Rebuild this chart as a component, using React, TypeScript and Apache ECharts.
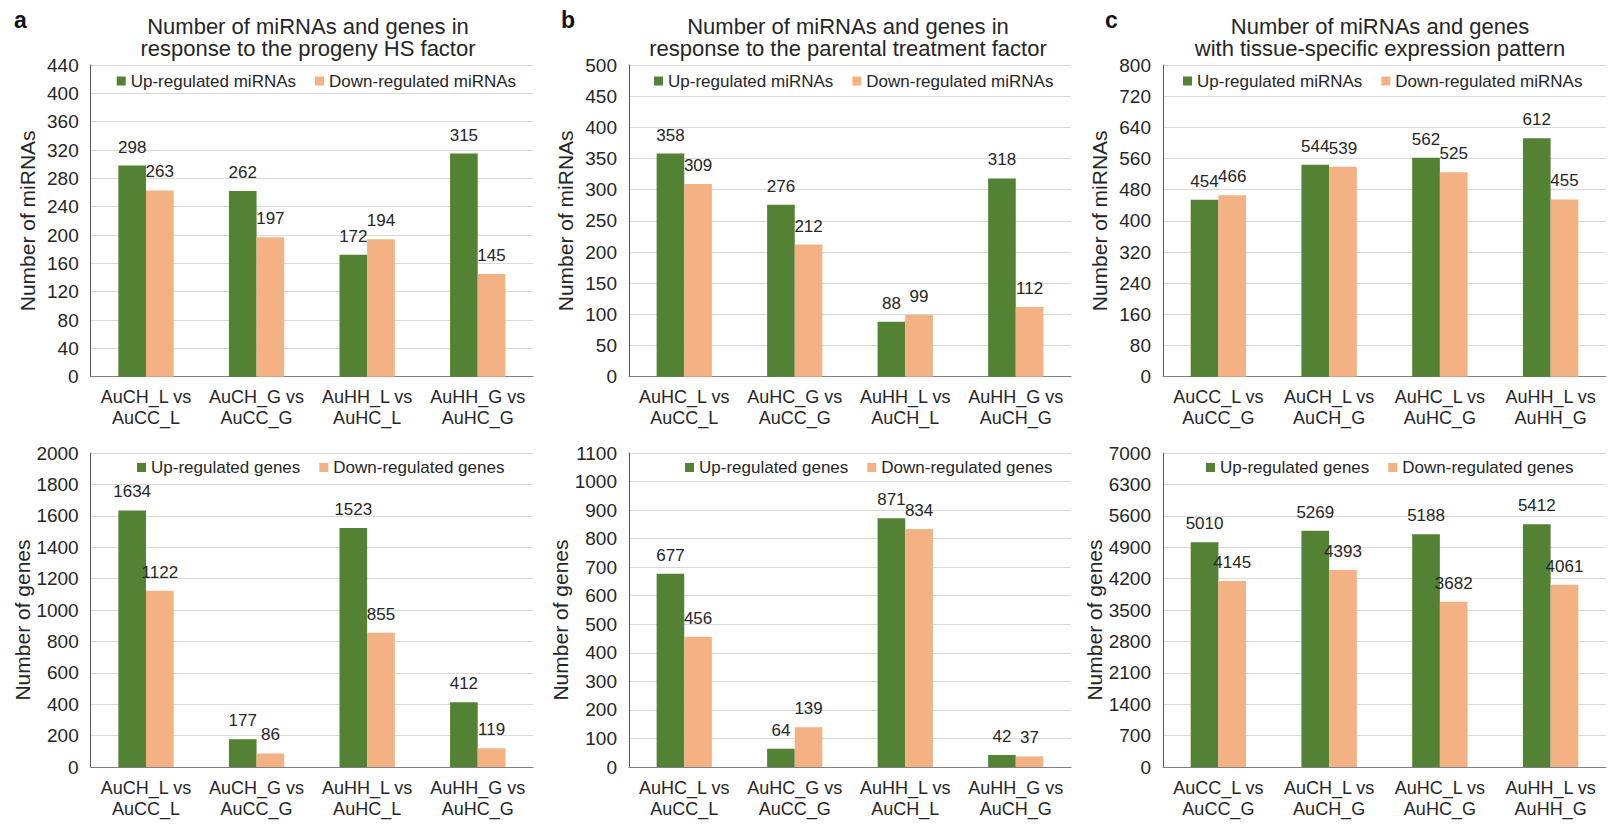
import React, { useEffect, useRef } from "react";
import * as echarts from "echarts";

// ---------- data ----------
const catsA = ["AuCH_L vs\nAuCC_L", "AuCH_G vs\nAuCC_G", "AuHH_L vs\nAuHC_L", "AuHH_G vs\nAuHC_G"];
const catsB = ["AuHC_L vs\nAuCC_L", "AuHC_G vs\nAuCC_G", "AuHH_L vs\nAuCH_L", "AuHH_G vs\nAuCH_G"];
const catsC = ["AuCC_L vs\nAuCC_G", "AuCH_L vs\nAuCH_G", "AuHC_L vs\nAuHC_G", "AuHH_L vs\nAuHH_G"];

const aMirUp = [298, 262, 172, 315];
const aMirDown = [263, 197, 194, 145];
const aGeneUp = [1634, 177, 1523, 412];
const aGeneDown = [1122, 86, 855, 119];

const bMirUp = [358, 276, 88, 318];
const bMirDown = [309, 212, 99, 112];
const bGeneUp = [677, 64, 871, 42];
const bGeneDown = [456, 139, 834, 37];

const cMirUp = [454, 544, 562, 612];
const cMirDown = [466, 539, 525, 455];
const cGeneUp = [5010, 5269, 5188, 5412];
const cGeneDown = [4145, 4393, 3682, 4061];

// y-axis scales: [max, interval]
const yScales = [
  [440, 40],
  [500, 50],
  [800, 80],
  [2000, 200],
  [1100, 100],
  [7000, 700],
];

const titles = [
  "Number of miRNAs and genes in\nresponse to the progeny HS factor",
  "Number of miRNAs and genes in\nresponse to the parental treatment factor",
  "Number of miRNAs and genes\nwith tissue-specific expression pattern",
];
const letters = ["a", "b", "c"];

const mirLegend = ["Up-regulated miRNAs", "Down-regulated miRNAs"];
const geneLegend = ["Up-regulated genes", "Down-regulated genes"];
const yNames = ["Number of miRNAs", "Number of genes"];

const GREEN = "#548235";
const ORANGE = "#F4B183";
const TEXT = "#262626";
const FONT = '"Liberation Sans", Arial, Helvetica, sans-serif';

export default function App() {
  const ref = useRef<HTMLDivElement>(null);

  useEffect(() => {
    if (!ref.current) return;
    const chart = echarts.init(ref.current, null, { renderer: "svg" });

    const cols = [
      { left: 90.7, width: 442.3, legendTop: 116.7, legendBot: 137, titleX: 308, letterX: 14, letterY: 20 },
      { left: 629, width: 442, legendTop: 654, legendBot: 685, titleX: 848, letterX: 561, letterY: 20 },
      { left: 1163, width: 443, legendTop: 1183, legendBot: 1206, titleX: 1380, letterX: 1105, letterY: 20 },
    ];
    const rows = [
      { top: 65, height: 311.7 },
      { top: 453, height: 314 },
    ];

    const panels = [
      { col: 0, row: 0, cats: catsA, up: aMirUp, down: aMirDown },
      { col: 1, row: 0, cats: catsB, up: bMirUp, down: bMirDown },
      { col: 2, row: 0, cats: catsC, up: cMirUp, down: cMirDown },
      { col: 0, row: 1, cats: catsA, up: aGeneUp, down: aGeneDown },
      { col: 1, row: 1, cats: catsB, up: bGeneUp, down: bGeneDown },
      { col: 2, row: 1, cats: catsC, up: cGeneUp, down: cGeneDown },
    ];

    const grid: any[] = [];
    const xAxis: any[] = [];
    const yAxis: any[] = [];
    const series: any[] = [];
    const legend: any[] = [];

    panels.forEach((p, i) => {
      const c = cols[p.col];
      const r = rows[p.row];
      const names = p.row === 0 ? mirLegend : geneLegend;
      grid.push({ left: c.left, top: r.top, width: c.width, height: r.height, containLabel: false });
      xAxis.push({
        type: "category",
        gridIndex: i,
        data: p.cats,
        axisLine: { show: true, lineStyle: { color: "#808080", width: 1 } },
        axisTick: { show: false },
        axisLabel: {
          interval: 0,
          margin: 10,
          fontSize: 18,
          lineHeight: 21,
          color: TEXT,
          fontFamily: FONT,
        },
      });
      yAxis.push({
        type: "value",
        gridIndex: i,
        min: 0,
        max: yScales[i][0],
        interval: yScales[i][1],
        name: yNames[p.row],
        nameLocation: "middle",
        nameGap: 53,
        nameTextStyle: {
          fontSize: 21,
          color: TEXT,
          fontFamily: FONT,
          padding: p.row === 1 ? [0, 20, 0, 0] : 0,
        },
        axisLine: { show: true, lineStyle: { color: "#595959", width: 1 } },
        axisTick: { show: false },
        splitLine: { show: true, lineStyle: { color: "#D9D9D9", width: 1 } },
        axisLabel: {
          margin: 12,
          fontSize: 19,
          color: TEXT,
          fontFamily: FONT,
          formatter: (v: number) => String(v),
        },
      });
      const lbl = {
        show: true,
        position: "top",
        distance: 10,
        fontSize: 17,
        color: TEXT,
        fontFamily: FONT,
      };
      series.push({
        type: "bar",
        name: names[0],
        xAxisIndex: i,
        yAxisIndex: i,
        data: p.up,
        barWidth: "25%",
        barGap: "0%",
        itemStyle: { color: GREEN },
        label: lbl,
      });
      series.push({
        type: "bar",
        name: names[1],
        xAxisIndex: i,
        yAxisIndex: i,
        data: p.down,
        barWidth: "25%",
        barGap: "0%",
        itemStyle: { color: ORANGE },
        label: lbl,
      });
      legend.push({
        left: p.row === 0 ? c.legendTop : c.legendBot,
        top: p.row === 0 ? 72.5 : 459,
        padding: 0,
        icon: "rect",
        itemWidth: 9,
        itemHeight: 9,
        itemGap: 19,
        selectedMode: false,
        data: names,
        textStyle: { fontSize: 17, color: TEXT, fontFamily: FONT },
      });
    });

    const graphic: any[] = [];
    cols.forEach((c, k) => {
      graphic.push({
        type: "text",
        x: c.titleX,
        y: 37.5,
        style: {
          text: titles[k],
          font: `22px ${FONT}`,
          fill: TEXT,
          lineHeight: 22,
          textAlign: "center",
          textVerticalAlign: "middle",
          align: "center",
          verticalAlign: "middle",
        },
      });
      graphic.push({
        type: "text",
        x: c.letterX,
        y: c.letterY,
        style: {
          text: letters[k],
          font: `bold 23px ${FONT}`,
          fill: "#111",
          textAlign: "left",
          textVerticalAlign: "middle",
          align: "left",
          verticalAlign: "middle",
        },
      });
    });

    chart.setOption({
      animation: false,
      backgroundColor: "#ffffff",
      textStyle: { fontFamily: FONT },
      grid,
      xAxis,
      yAxis,
      series,
      legend,
      graphic,
    });

    return () => {
      chart.dispose();
    };
  }, []);

  return (
    <div
      ref={ref}
      style={{ position: "fixed", left: 0, top: 0, width: 1622, height: 829, background: "#fff" }}
    />
  );
}
